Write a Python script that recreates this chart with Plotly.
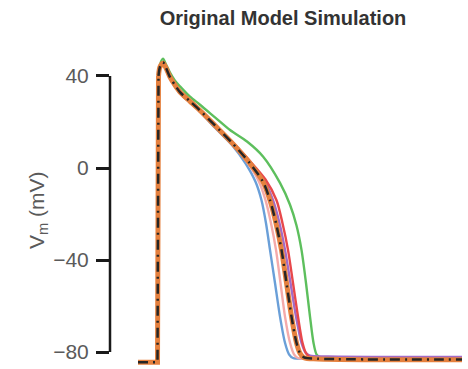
import plotly.graph_objects as go

# time (ms) and membrane potential (mV)
t_black = [-40, -1, 1, 4, 10, 16, 24, 34, 44, 64, 84, 114, 150, 184, 210, 224, 236, 247, 257, 267, 277, 284, 292, 320, 608]
v_black = [-84.5, -84.5, 40, 44, 46, 43.5, 39.5, 36, 33, 29, 25, 18.5, 10.5, 2, -6, -14, -24, -35.6, -50, -64.6, -76, -80.5, -82.3, -82.9, -83.3]

t_orange = t_black
v_orange = [-84.5, -84.5, 40, 44, 45.5, 43.5, 39.5, 36, 33, 29, 25, 18.5, 10.5, 2, -6, -14, -24, -35.6, -50, -64.6, -76, -80.5, -82.5, -83, -83.4]

t_blue = [-40, -1, 1, 4, 10, 16, 24, 34, 44, 64, 84, 114, 150, 175, 195, 207, 216, 224, 234, 244, 254, 262, 270, 300, 608]
v_blue = [-84.5, -84.5, 40, 44, 45.5, 43, 39, 35.5, 32.5, 28.5, 24.5, 17.5, 9.5, 2, -6, -14, -24, -35.6, -50, -64.6, -76, -81, -82.6, -83, -83.5]

t_pink = [-40, -1, 1, 4, 10, 16, 24, 34, 44, 64, 84, 114, 150, 180, 202, 215, 226, 236, 245, 254, 264, 272, 280, 310, 608]
v_pink = [-84.5, -84.5, 40, 44, 45.5, 43, 39, 35.5, 32.5, 28.5, 24.5, 18, 10, 2, -6, -14, -24, -35.6, -50, -64.6, -76, -81, -82.6, -83, -83.5]

t_red = [-40, -1, 1, 4, 10, 16, 24, 34, 44, 64, 84, 114, 150, 184, 215, 237, 249, 260, 270, 280, 289, 296, 304, 330, 608]
v_red = [-84.5, -84.5, 40, 44, 46, 43.5, 40, 36.5, 33.5, 29.5, 25.5, 19, 11, 3, -5, -14, -24, -35.6, -50, -64.6, -76, -80.5, -82.3, -82.9, -83.3]

t_purple = [-40, -1, 1, 4, 10, 16, 24, 34, 44, 64, 84, 114, 150, 184, 214, 230, 243, 254, 265, 276, 287, 296, 304, 340, 608]
v_purple = [-84.5, -84.5, 40, 44, 46, 43.5, 39.5, 36, 33, 29, 25, 18.5, 10.5, 2.5, -6, -14, -24, -35.6, -50, -64.6, -76, -80.5, -81.6, -81.9, -82.2]

t_green = [-40, -1, 1, 4, 10, 16, 24, 34, 44, 64, 84, 114, 144, 178, 210, 244, 264, 277, 287, 296, 304, 311, 317, 324, 350, 608]
v_green = [-84.5, -84.5, 40, 45, 47.5, 45, 41.5, 38, 35.5, 31, 27.5, 22, 16.5, 11.5, 5, -6.5, -16, -25, -35.6, -50, -64.6, -76, -81, -82.3, -82.8, -83.2]

y_ticks = [-80, -40, 0, 40]

series = [
    (t_green, v_green, "#5dbf5d", 2.4, "solid"),
    (t_purple, v_purple, "#a26bc6", 2.4, "solid"),
    (t_blue, v_blue, "#6a9fd8", 2.4, "solid"),
    (t_pink, v_pink, "#f4aaaa", 2.4, "solid"),
    (t_red, v_red, "#e8484b", 2.4, "solid"),
    (t_orange, v_orange, "#e5803e", 5, "solid"),
    (t_black, v_black, "#262626", 2.5, "10px,5px,2px,5px"),
]

fig = go.Figure()
for t, v, c, w, d in series:
    # resting level and upstroke: straight segments
    fig.add_trace(go.Scatter(x=t[:3], y=v[:3], mode="lines",
                             line=dict(color=c, width=w, dash=d),
                             showlegend=False, hoverinfo="skip"))
    # plateau and repolarisation: smooth curve
    fig.add_trace(go.Scatter(x=t[2:], y=v[2:], mode="lines",
                             line=dict(color=c, width=w, dash=d, shape="spline", smoothing=0.8),
                             showlegend=False, hoverinfo="skip"))

fig.update_layout(
    width=468, height=369,
    margin=dict(l=110, r=4, t=50, b=2),
    paper_bgcolor="white", plot_bgcolor="white",
    font=dict(family="Liberation Sans, Arial, sans-serif"),
    title=dict(text="<b>Original Model Simulation</b>",
               x=283 / 468, xanchor="center", y=1 - 18 / 369, yanchor="middle",
               font=dict(size=20, color="#333333")),
    xaxis=dict(range=[-96, 612], visible=False),
    yaxis=dict(range=[-86.52, 51.3], tickvals=y_ticks,
               ticks="outside", ticklen=13, tickwidth=2.5, tickcolor="#1a1a1a",
               showline=False, showgrid=False, zeroline=False,
               tickfont=dict(size=21, color="#5a5a5a"),
               ticklabelstandoff=3),
    shapes=[dict(type="line", xref="paper", yref="y", x0=0, x1=0, y0=-80, y1=40,
                 line=dict(color="#1a1a1a", width=2.5))],
    annotations=[dict(text="V<sub>m</sub> (mV)", xref="paper", yref="paper",
                      x=(38 - 110) / 354, y=(367 - 210) / 317,
                      xanchor="center", yanchor="middle", textangle=-90,
                      showarrow=False, font=dict(size=21, color="#5a5a5a"))],
)

fig.write_html("out.html")
